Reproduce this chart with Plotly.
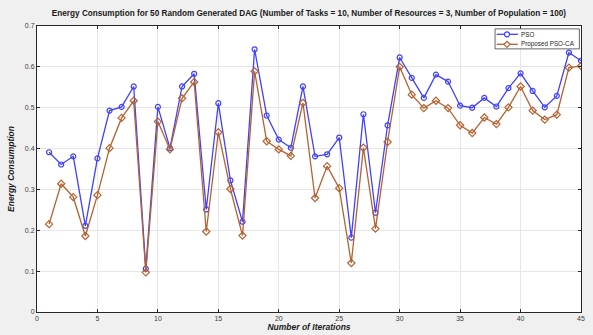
import plotly.graph_objects as go

iterations = list(range(1, 46))
pso = [0.391, 0.361, 0.381, 0.211, 0.376, 0.493, 0.502, 0.552, 0.106, 0.502,
       0.401, 0.552, 0.583, 0.251, 0.511, 0.322, 0.221, 0.643, 0.481, 0.422,
       0.402, 0.552, 0.381, 0.386, 0.427, 0.182, 0.484, 0.243, 0.457, 0.623,
       0.573, 0.524, 0.581, 0.564, 0.505, 0.500, 0.524, 0.503, 0.548, 0.584,
       0.541, 0.501, 0.529, 0.635, 0.615]
pso_ca = [0.215, 0.314, 0.281, 0.186, 0.286, 0.401, 0.475, 0.517, 0.097, 0.466,
          0.398, 0.523, 0.563, 0.197, 0.440, 0.301, 0.187, 0.589, 0.418, 0.398,
          0.382, 0.512, 0.279, 0.357, 0.303, 0.120, 0.402, 0.204, 0.416, 0.600,
          0.532, 0.499, 0.517, 0.499, 0.457, 0.438, 0.476, 0.460, 0.501, 0.552,
          0.493, 0.471, 0.483, 0.598, 0.602]
series_names = ["PSO", "Proposed PSO-CA"]
series_colors = ["#4040ff", "#b5622e"]
x_ticks = [0, 5, 10, 15, 20, 25, 30, 35, 40, 45]
y_ticks = [0, 0.1, 0.2, 0.3, 0.4, 0.5, 0.6, 0.7]
y_tick_labels = ["0", "0.1", "0.2", "0.3", "0.4", "0.5", "0.6", "0.7"]

title_text = ("Energy Consumption for 50 Random Generated DAG (Number of Tasks = 10, "
              "Number of Resources = 3, Number of Population = 100)")

fig = go.Figure()
fig.add_trace(go.Scatter(
    x=iterations, y=pso, name=series_names[0], mode="lines+markers",
    line=dict(color=series_colors[0], width=1.3),
    marker=dict(symbol="circle-open", size=5, color=series_colors[0], line=dict(width=1.2)),
))
fig.add_trace(go.Scatter(
    x=iterations, y=pso_ca, name=series_names[1], mode="lines+markers",
    line=dict(color=series_colors[1], width=1.3),
    marker=dict(symbol="diamond-open", size=5.5, color=series_colors[1], line=dict(width=1.2)),
))

axis_common = dict(
    showgrid=True, gridcolor="#e6e6e6", gridwidth=1,
    showline=True, linecolor="#262626", linewidth=1, mirror="ticks",
    ticks="inside", ticklen=3, tickcolor="#262626",
    zeroline=False, automargin=False,
    tickfont=dict(family="Liberation Sans, Arial, sans-serif", size=7, color="#404040"),
)

# Compact MATLAB-style legend (built from shapes + annotations in paper coords)
legend_box = dict(x0=0.842, x1=0.997, y0=0.920, y1=0.990)
legend_rows = [0.971, 0.936]
line_x = (0.845, 0.884)
marker_x = 0.864
text_x = 0.886

shapes = [dict(type="rect", xref="paper", yref="paper", layer="above",
               fillcolor="white", line=dict(color="#262626", width=0.7), **legend_box)]
annotations = []
for i, (name, color, yy) in enumerate(zip(series_names, series_colors, legend_rows)):
    shapes.append(dict(type="line", xref="paper", yref="paper", layer="above",
                       x0=line_x[0], x1=line_x[1], y0=yy, y1=yy,
                       line=dict(color=color, width=1.3)))
    if i == 0:
        shapes.append(dict(type="circle", xref="paper", yref="paper", layer="above",
                           xsizemode="pixel", ysizemode="pixel",
                           xanchor=marker_x, yanchor=yy,
                           x0=-2.5, x1=2.5, y0=-2.5, y1=2.5,
                           fillcolor="white", line=dict(color=color, width=1.2)))
    else:
        shapes.append(dict(type="path", xref="paper", yref="paper", layer="above",
                           xsizemode="pixel", ysizemode="pixel",
                           xanchor=marker_x, yanchor=yy,
                           path="M 0 -3 L 3 0 L 0 3 L -3 0 Z",
                           fillcolor="white", line=dict(color=color, width=1.2)))
    annotations.append(dict(xref="paper", yref="paper", x=text_x, y=yy,
                            xanchor="left", yanchor="middle", showarrow=False,
                            text=name, font=dict(size=6.3, color="#262626")))

fig.update_layout(
    width=593, height=335,
    paper_bgcolor="#f0f0f0", plot_bgcolor="white",
    margin=dict(l=37, r=12, t=26, b=23, autoexpand=False),
    font=dict(family="Liberation Sans, Arial, sans-serif", color="#262626"),
    title=dict(text="<b>" + title_text + "</b>", x=0.521, xanchor="center",
               y=0.962, yanchor="middle",
               font=dict(size=8.2, color="#1a1a1a")),
    xaxis=dict(axis_common, range=[0, 45], tickvals=x_ticks,
               title=dict(text="<b><i>Number of Iterations</i></b>", standoff=2,
                          font=dict(size=8.5, color="#1a1a1a"))),
    yaxis=dict(axis_common, range=[0, 0.7], tickvals=y_ticks, ticktext=y_tick_labels,
               title=dict(text="<b><i>Energy Consumption</i></b>", standoff=8,
                          font=dict(size=8.5, color="#1a1a1a"))),
    showlegend=False,
    shapes=shapes,
    annotations=annotations,
)

fig.write_html("out.html")
